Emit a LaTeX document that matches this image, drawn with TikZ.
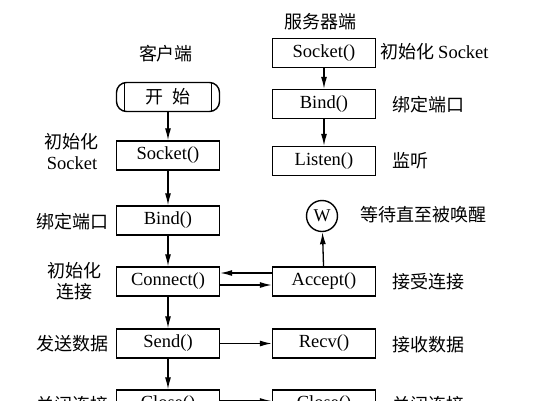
\documentclass[tikz,border=0pt]{standalone}
\usepackage{fontspec}
\setmainfont{Liberation Serif}
\newfontfamily\cjk{Noto Sans CJK SC}
\usetikzlibrary{arrows.meta}
\begin{document}
\begin{tikzpicture}[x=1pt,y=-1pt,
    box/.style={draw,line width=1.4pt,minimum width=103pt,minimum height=29pt,
      inner sep=0pt,font=\fontsize{18.5}{20}\selectfont},
    term/.style={box,rounded corners=10pt,font=\cjk\fontsize{18}{20}\selectfont,
      path picture={\draw[line width=1.3pt]
        ([xshift=8pt]path picture bounding box.north west) --
        ([xshift=8pt]path picture bounding box.south west)
        ([xshift=-8pt]path picture bounding box.north east) --
        ([xshift=-8pt]path picture bounding box.south east);}},
    wake/.style={draw,circle,line width=1.4pt,minimum size=31pt,inner sep=0pt,
      font=\fontsize{18}{19}\selectfont},
    lbl/.style={inner sep=0pt,align=center,font=\cjk\fontsize{18}{21}\selectfont},
    flow/.style={-{Latex[length=12pt,width=6pt]},line width=1.3pt}]
      \clip (0,0) rectangle (542,400);
      \draw
        (168,97) node[term] (start){开\hspace{0.45em}始}
        (168,155.5) node[box] (csock){Socket()}
        (168,220.5) node[box] (cbind){Bind()}
        (168,281.5) node[box] (connect){Connect()}
        (168,343.5) node[box] (send){Send()}
        (168,404.5) node[box] (cclose){Close()}
        (324,53) node[box] (ssock){Socket()}
        (324,104) node[box] (sbind){Bind()}
        (324,161) node[box] (listen){Listen()}
        (322,216) node[wake] (wait){W}
        (324,281.5) node[box] (accept){Accept()}
        (324,343.5) node[box] (recv){Recv()}
        (324,404.5) node[box] (sclose){Close()};
      \path
        (166,54) node[lbl] (client){客户端}
        (320,22) node[lbl] (server){服务器端}
        (72,152) node[lbl] (csocktxt){初始化\\{\rmfamily\fontsize{18.5}{20}\selectfont Socket}}
        (73,222) node[lbl] (cbindtxt){绑定端口}
        (75,281) node[lbl] (connecttxt){初始化\\连接}
        (73,344) node[lbl] (sendtxt){发送数据}
        (73,405) node[lbl] (cclosetxt){关闭连接}
        (380,52) node[lbl,anchor=west] (ssocktxt){初始化 {\rmfamily\fontsize{18.5}{20}\selectfont Socket}}
        (392,105) node[lbl,anchor=west] (sbindtxt){绑定端口}
        (392,161) node[lbl,anchor=west] (listentxt){监听}
        (360,215) node[lbl,anchor=west] (waittxt){等待直至被唤醒}
        (392,282) node[lbl,anchor=west] (accepttxt){接受连接}
        (392,345) node[lbl,anchor=west] (recvtxt){接收数据}
        (392,405) node[lbl,anchor=west] (sclosetxt){关闭连接};
      \begin{scope}[flow]
        \draw (start) to (csock);
        \draw (csock) to (cbind);
        \draw (cbind) to (connect);
        \draw (connect) to (send);
        \draw (send) to (cclose);
        \draw (ssock) to (sbind);
        \draw (sbind) to (listen);
        \draw (accept) to (wait);
        \draw ([yshift=8.5pt]accept.west) to ([yshift=8.5pt]connect.east);
        \draw ([yshift=-3.5pt]connect.east) to ([yshift=-3.5pt]accept.west);
        \draw (send) to (recv);
        \draw ([yshift=3.5pt]cclose.east) to ([yshift=3.5pt]sclose.west);
      \end{scope}
    \end{tikzpicture}
\end{document}
